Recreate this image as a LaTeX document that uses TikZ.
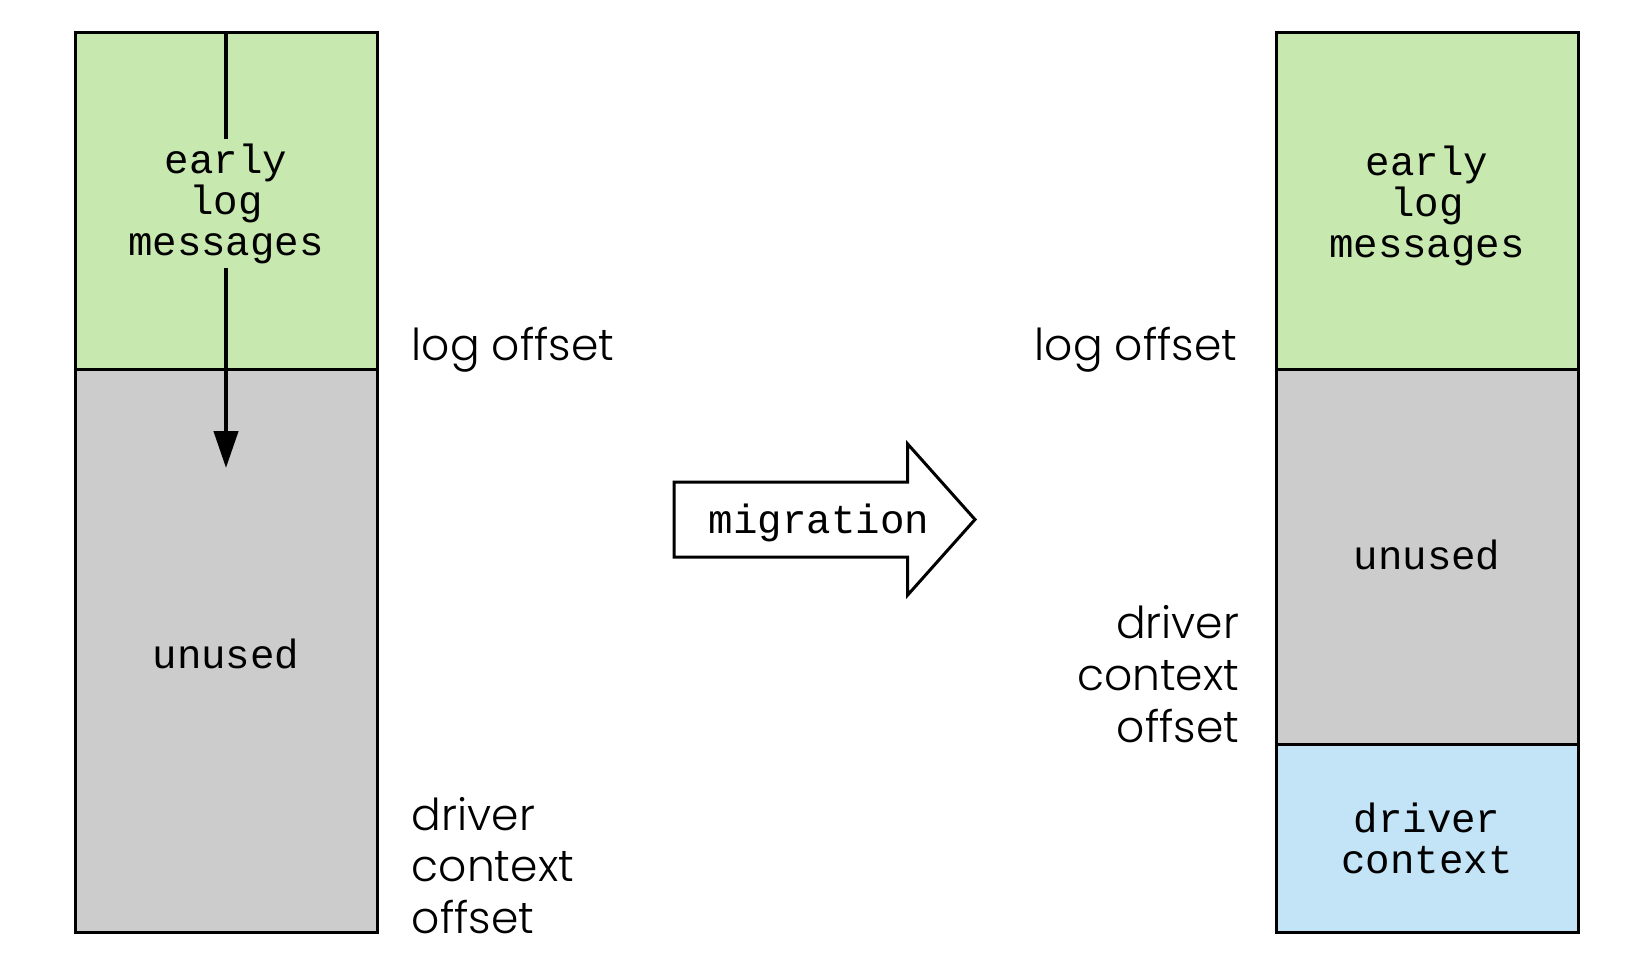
\documentclass[tikz,border=0pt]{standalone}
\usepackage{fontspec}
\setmainfont{Poppins}
\newfontfamily\monofont{Liberation Mono}
\newfontfamily\labelfont{Poppins Light}
\usetikzlibrary{arrows.meta}
\definecolor{logGreen}{RGB}{199,232,174}
\definecolor{unusedGrey}{RGB}{204,204,204}
\definecolor{ctxBlue}{RGB}{194,228,246}
\begin{document}
\begin{tikzpicture}[x=0.5pt,y=-0.5pt,
  region/.style={draw=black, line width=1.5pt},
  monotext/.style={font=\monofont\fontsize{20.4}{20.5}\selectfont, align=center, inner sep=0pt},
  offlabel/.style={font=\labelfont\fontsize{22}{25.9}\selectfont, inner sep=0pt},
  flowline/.style={line width=2.2pt},
  bigarrow/.style={draw=black, line width=1.5pt, fill=white, line join=miter}
]
\useasboundingbox (0,0) rectangle (1650,954);

% left column
\fill[logGreen] (75,32) rectangle (377,369.5);
\fill[unusedGrey] (75,369.5) rectangle (377,932);
\draw[region] (75,369.5) -- (377,369.5);
\draw[region] (75,32) rectangle (377,932);

% right column
\fill[logGreen] (1276,32) rectangle (1578,369.5);
\fill[unusedGrey] (1276,369.5) rectangle (1578,744);
\fill[ctxBlue] (1276,744) rectangle (1578,932);
\draw[region] (1276,369.5) -- (1578,369.5);
\draw[region] (1276,744) -- (1578,744);
\draw[region] (1276,32) rectangle (1578,932);

% left texts and flow arrow
\node[monotext, minimum height=64pt] (lmsg) at (226,203.5) {early\\log\\messages};
\node[monotext] (lunused) at (226,654) {unused};
\coordinate (ltop) at (226,32);
\coordinate (ltip) at (226,468);
\draw[flowline] (ltop) -- (lmsg.north);
\draw[flowline, -{Triangle[length=18.5pt,width=12pt]}] (lmsg.south) -- (ltip);

% right texts
\node[monotext] (rmsg) at (1427,206) {early\\log\\messages};
\node[monotext] (runused) at (1427,554.5) {unused};
\node[monotext] (rctx) at (1427,838) {driver\\context};

% offset labels
\node[offlabel, anchor=base west] (llog) at (411.5,360) {log offset};
\node[offlabel, anchor=south west, align=left] (lctx) at (411.5,934.5) {driver\\context\\offset};
\node[offlabel, anchor=base east] (rlog) at (1237.5,360) {log offset};
\node[offlabel, anchor=south east, align=right] (rctxoff) at (1239.6,743) {driver\\context\\offset};

% migration arrow
\draw[bigarrow] (674,482) -- (907.7,482) -- (907.7,444) -- (975,519.5) -- (907.7,595) -- (907.7,557) -- (674,557) -- cycle;
\node[monotext] (mig) at (819,523) {migration};
\end{tikzpicture}
\end{document}
